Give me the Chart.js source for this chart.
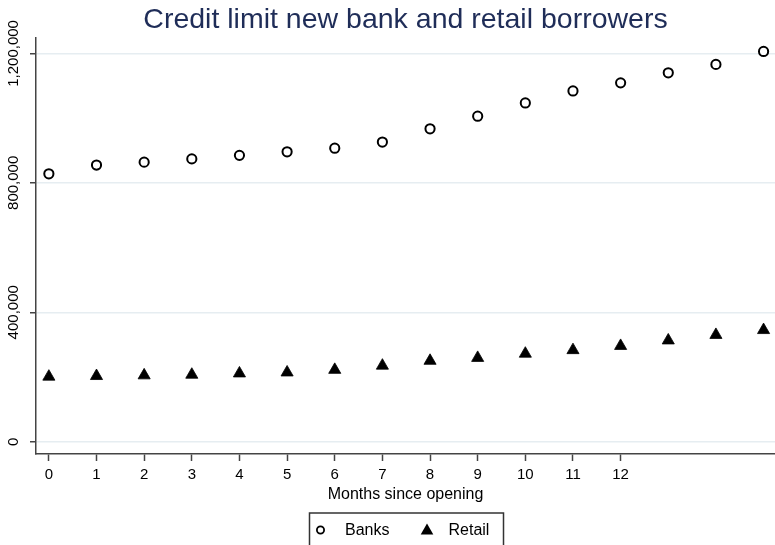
<!DOCTYPE html>
<html>
<head>
<meta charset="utf-8">
<script src="https://cdn.jsdelivr.net/npm/chart.js@4"></script>
<style>
html, body { margin: 0; padding: 0; background: #fff; }
#wrap { width: 775px; height: 545px; }
</style>
</head>
<body>
<div id="wrap"><canvas id="myChart" width="775" height="545"></canvas></div>
<script>
// months since the account was opened
var months = [0, 1, 2, 3, 4, 5, 6, 7, 8, 9, 10, 11, 12, 13, 14, 15];

// average credit limit per group
var banks = [828000, 855000, 864000, 874000, 885000, 896000, 907000, 926000,
             967000, 1006000, 1047000, 1084000, 1109000, 1140000, 1166000, 1206000];
var retail = [201000, 203000, 205000, 207000, 211000, 214000, 222000, 235000,
              250000, 259000, 272000, 283000, 296000, 313000, 330000, 345000];

var xTicks = [0, 1, 2, 3, 4, 5, 6, 7, 8, 9, 10, 11, 12];
var yTicks = [0, 400000, 800000, 1200000];
var seriesNames = ['Banks', 'Retail'];

var fontFamily = '"Liberation Sans", Arial, Helvetica, sans-serif';
Chart.defaults.font.family = fontFamily;
Chart.defaults.color = '#000';

function toPoints(values) {
    return values.map(function(v, i) {
        return { x: months[i], y: v };
    });
}

// y labels are drawn rotated, reading bottom to top
var yLabelPlugin = {
    id: 'yLabels',
    afterDraw: function(chart) {
        var ctx = chart.ctx;
        var scale = chart.scales.y;
        ctx.save();
        ctx.font = '15px ' + fontFamily;
        ctx.fillStyle = '#000';
        ctx.textAlign = 'center';
        ctx.textBaseline = 'middle';
        scale.ticks.forEach(function(t) {
            ctx.save();
            ctx.translate(14, scale.getPixelForValue(t.value));
            ctx.rotate(-Math.PI / 2);
            ctx.fillText(t.value.toLocaleString('en-US'), 0, 0);
            ctx.restore();
        });
        ctx.restore();
    }
};

// boxed legend under the axis title
var boxLegendPlugin = {
    id: 'boxLegend',
    afterDraw: function(chart) {
        var ctx = chart.ctx;
        var cx = (chart.chartArea.left + chart.chartArea.right) / 2;
        var top = 513;
        var cy = 530;
        ctx.save();
        ctx.strokeStyle = '#333';
        ctx.lineWidth = 1.5;
        ctx.strokeRect(cx - 96, top, 194, 60);

        ctx.beginPath();
        ctx.arc(cx - 85, cy, 3.6, 0, Math.PI * 2);
        ctx.fillStyle = '#fff';
        ctx.fill();
        ctx.lineWidth = 1.8;
        ctx.strokeStyle = '#000';
        ctx.stroke();

        ctx.beginPath();
        ctx.moveTo(cx + 21.5, cy - 6.5);
        ctx.lineTo(cx + 27.8, cy + 4.5);
        ctx.lineTo(cx + 15.2, cy + 4.5);
        ctx.closePath();
        ctx.fillStyle = '#000';
        ctx.fill();

        ctx.font = '16px ' + fontFamily;
        ctx.textAlign = 'left';
        ctx.textBaseline = 'middle';
        ctx.fillText(seriesNames[0], cx - 60.5, cy + 1);
        ctx.fillText(seriesNames[1], cx + 43, cy + 1);
        ctx.restore();
    }
};

var ctx = document.getElementById('myChart').getContext('2d');
var myChart = new Chart(ctx, {
    type: 'scatter',
    data: {
        datasets: [
            {
                label: seriesNames[0],
                data: toPoints(banks),
                pointStyle: 'circle',
                pointRadius: 4.6,
                pointBorderWidth: 2,
                pointBorderColor: '#000',
                pointBackgroundColor: '#fff',
                showLine: false
            },
            {
                label: seriesNames[1],
                data: toPoints(retail),
                pointStyle: 'triangle',
                pointRadius: 7,
                pointBorderWidth: 0.8,
                pointBorderColor: '#000',
                pointBackgroundColor: '#000',
                showLine: false
            }
        ]
    },
    options: {
        responsive: false,
        animation: false,
        events: [],
        layout: { autoPadding: false, padding: { left: 0, right: 0, top: 0, bottom: 33 } },
        scales: {
            x: {
                type: 'linear',
                min: -0.27,
                max: 15.24,
                afterBuildTicks: function(scale) {
                    scale.ticks = xTicks.map(function(v) { return { value: v }; });
                },
                afterFit: function(scale) {
                    scale.height = 58;
                    scale.paddingLeft = 0;
                    scale.paddingRight = 0;
                },
                ticks: { font: { size: 15 }, color: '#000', padding: 5, autoSkip: false, maxRotation: 0 },
                grid: { drawOnChartArea: false, tickLength: 7, tickColor: '#444', tickWidth: 1.5 },
                border: { color: '#444', width: 1.5 },
                title: {
                    display: true,
                    text: 'Months since opening',
                    font: { size: 16 },
                    color: '#000',
                    padding: { top: 0, bottom: 8 }
                }
            },
            y: {
                min: -38000,
                max: 1247000,
                afterBuildTicks: function(scale) {
                    scale.ticks = yTicks.map(function(v) { return { value: v }; });
                },
                afterFit: function(scale) {
                    scale.width = 36;
                    scale.paddingTop = 0;
                    scale.paddingBottom = 0;
                },
                ticks: { display: false },
                grid: { color: '#e6edf1', lineWidth: 1.5, tickLength: 6, tickColor: '#444', tickWidth: 1.5 },
                border: { color: '#444', width: 1.5 }
            }
        },
        plugins: {
            title: {
                display: true,
                text: 'Credit limit new bank and retail borrowers',
                font: { size: 28.5, weight: 'normal' },
                color: '#1f2d58',
                padding: { top: 3, bottom: 1 },
                fullSize: false
            },
            legend: { display: false },
            tooltip: { enabled: false }
        }
    },
    plugins: [yLabelPlugin, boxLegendPlugin]
});
</script>
</body>
</html>
